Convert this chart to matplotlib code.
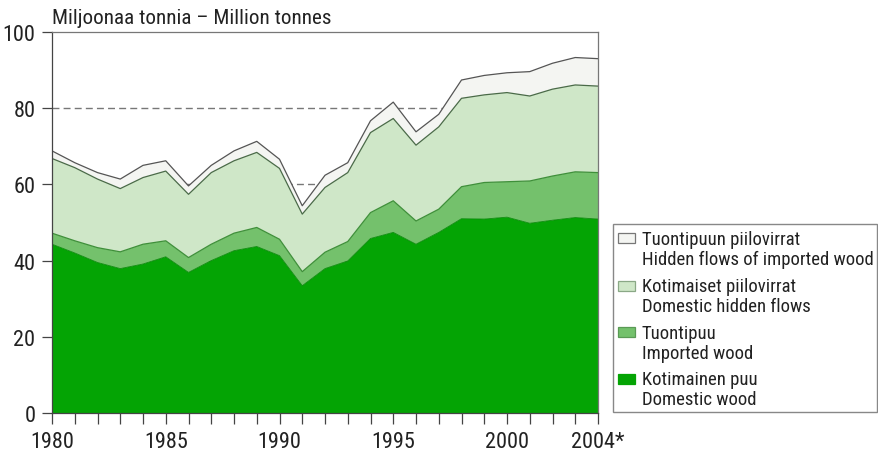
import matplotlib
matplotlib.use("Agg")
import matplotlib.pyplot as plt
from matplotlib.patches import Rectangle
import numpy as np

plt.rcParams['font.family'] = ['Roboto Condensed', 'PT Sans Narrow', 'DejaVu Sans']

years = list(range(1980, 2005))
domestic_wood = [44.3, 42.0, 39.5, 37.9, 39.1, 41.0, 36.9, 40.0, 42.6, 43.7, 41.3, 33.4, 37.9,
                 39.9, 45.8, 47.4, 44.3, 47.4, 51.0, 50.9, 51.4, 49.8, 50.6, 51.3, 50.9]
imported_wood = [2.9, 3.2, 3.9, 4.4, 5.2, 4.2, 3.9, 4.3, 4.6, 5.0, 4.3, 3.7, 4.3,
                 5.1, 6.8, 8.3, 6.1, 6.1, 8.4, 9.6, 9.3, 11.1, 11.6, 12.0, 12.2]
domestic_hidden = [19.6, 19.2, 18.0, 16.6, 17.5, 18.3, 16.6, 18.8, 19.0, 19.7, 18.6, 15.1, 17.0,
                   18.1, 21.0, 21.6, 19.9, 21.6, 23.2, 23.0, 23.4, 22.3, 22.8, 22.8, 22.7]
imported_hidden = [2.0, 1.3, 1.7, 2.5, 3.2, 2.7, 2.2, 1.9, 2.6, 2.9, 2.4, 2.2, 3.2,
                   2.6, 3.1, 4.3, 3.5, 3.3, 4.8, 5.1, 5.2, 6.4, 6.8, 7.2, 7.2]

xtick_pos = [1980, 1985, 1990, 1995, 2000, 2004]
xtick_labels = ["1980", "1985", "1990", "1995", "2000", "2004*"]
yticks = [0, 20, 40, 60, 80, 100]

labels = ["Tuontipuun piilovirrat\nHidden flows of imported wood",
          "Kotimaiset piilovirrat\nDomestic hidden flows",
          "Tuontipuu\nImported wood",
          "Kotimainen puu\nDomestic wood"]

c_dom = '#04a404'
c_imp = '#74c16c'
c_dh = '#cfe7c8'
c_ih = '#f4f5f2'
c_text = '#222222'
FS_TICK = 16
FS_TITLE = 15.2
FS_LEG = 13.5

W, H = 879, 452
fig = plt.figure(figsize=(W / 100, H / 100), dpi=100)
ax = fig.add_axes([52 / W, 1 - 414 / H, (598 - 52) / W, (414 - 33) / H])

x = np.array(years)
layers = [np.array(domestic_wood), np.array(imported_wood),
          np.array(domestic_hidden), np.array(imported_hidden)]
colors = [c_dom, c_imp, c_dh, c_ih]
edge_cols = ['#0a8a0a', '#3f8f3a', '#4a6a48', '#555555']
edge_lw = [0.6, 0.9, 0.9, 0.9]
bottom = np.zeros(len(x))
for vals, col, ec, lw in zip(layers, colors, edge_cols, edge_lw):
    top = bottom + vals
    ax.fill_between(x, bottom, top, facecolor=col, edgecolor='none', zorder=2)
    ax.plot(x, top, color=ec, lw=lw, zorder=3)
    bottom = top

for yv in [20, 40, 60, 80]:
    ax.axhline(yv, color='#777777', lw=1.0, ls=(0, (5, 3)), zorder=1)

ax.set_xlim(1980, 2004)
ax.set_ylim(0, 100)
ax.set_yticks(yticks)
ax.set_yticklabels([str(v) for v in yticks])
ax.set_xticks(years, minor=True)
ax.set_xticks(xtick_pos)
ax.set_xticklabels(xtick_labels)
ax.tick_params(axis='both', which='both', direction='out', color='#444444', width=0.9,
               labelcolor=c_text, labelsize=FS_TICK)
ax.tick_params(axis='y', length=7, pad=5)
ax.tick_params(axis='x', which='both', length=8, pad=5)
for s in ['top', 'right']:
    ax.spines[s].set_color('#777777')
    ax.spines[s].set_linewidth(0.9)
for s in ['left', 'bottom']:
    ax.spines[s].set_color('#444444')
    ax.spines[s].set_linewidth(0.9)
for s in ax.spines.values():
    s.set_zorder(4)

fig.text(52 / W, 1 - 24 / H, "Miljoonaa tonnia \u2013 Million tonnes", fontsize=FS_TITLE,
         color=c_text, ha='left', va='baseline')

# legend box
fig.patches.append(Rectangle((613 / W, 1 - 413 / H), (877 - 613) / W, (413 - 225) / H,
                             transform=fig.transFigure, facecolor='white',
                             edgecolor='#888888', lw=1.0))
leg_cols = [c_ih, c_dh, c_imp, c_dom]
leg_edges = ['#777777', '#8aa886', '#5a9a55', c_dom]
first_line_y = [239.3, 286.7, 333.3, 380.0]
for lab, col, ec, yc in zip(labels, leg_cols, leg_edges, first_line_y):
    fig.patches.append(Rectangle((618 / W, 1 - (yc + 5) / H), 17 / W, 10 / H,
                                 transform=fig.transFigure, facecolor=col,
                                 edgecolor=ec, lw=0.9))
    fig.text(642 / W, 1 - (yc + 10.3) / H, lab, fontsize=FS_LEG, color=c_text,
             ha='left', va='center', linespacing=1.13)

fig.savefig("out.png", dpi=100)
